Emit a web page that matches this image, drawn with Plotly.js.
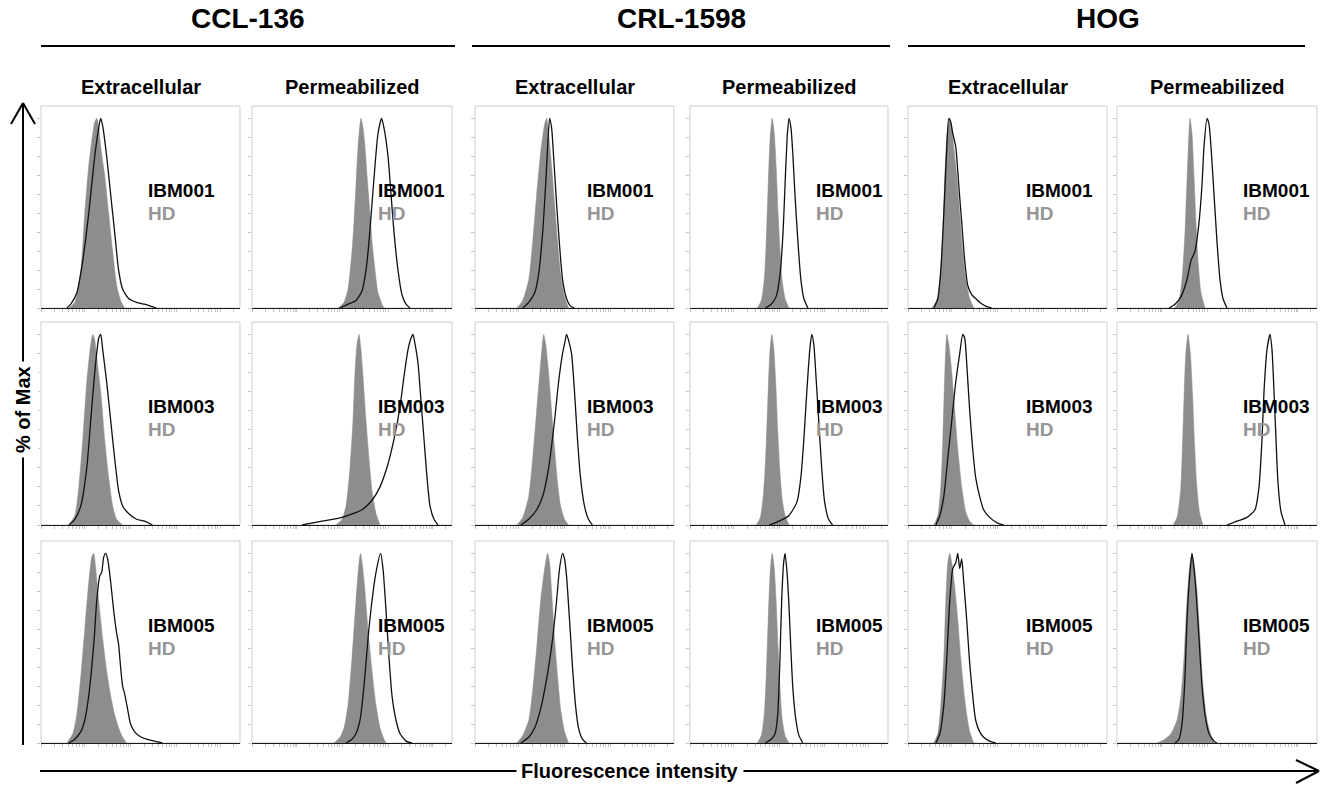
<!DOCTYPE html>
<html><head><meta charset="utf-8">
<script src="https://cdn.plot.ly/plotly-3.0.1.min.js"></script>
<style>html,body{margin:0;padding:0;background:#fff}#chart{width:1321px;height:787px}</style>
</head><body><div id="chart"></div>
<script>
const cellLines = ["CCL-136", "CRL-1598", "HOG"];
const conditions = ["Extracellular", "Permeabilized"];
const patients = ["IBM001", "IBM003", "IBM005"];
const controlLabel = "HD";
const xAxisTitle = "Fluorescence intensity";
const yAxisTitle = "% of Max";

// Histograms: [x (% of axis width, log fluorescence), y (% of max)]
// Row IBM001
const hd_ccl136_ext_1 = [[14,0],[17,3],[20,20],[22,50],[24,75],[26,92],[27,98],[28,100],[29,96],[30,85],[32,70],[34,50],[36,30],[38,12],[40,4],[42,0]];
const pt_ccl136_ext_1 = [[13,0],[15,2],[18,8],[21,25],[24,50],[27,80],[29,95],[30,100],[31,96],[33,80],[35,60],[37,40],[39,20],[41,10],[44,5],[48,3],[52,2],[55,1],[58,0]];
const hd_ccl136_perm_1 = [[43,0],[46,3],[48,10],[50,30],[51,45],[52,65],[53,85],[54,97],[54.5,100],[55.5,95],[56.5,85],[57.5,70],[59,50],[60,35],[61.5,20],[63,8],[65,2],[66,0]];
const pt_ccl136_perm_1 = [[44,0],[48,2],[52,4],[55,9],[57,20],[58.5,35],[60,55],[61.5,75],[63,92],[64.8,100],[66,95],[68,80],[69.5,60],[71,40],[73,20],[75,7],[77,2],[79,0]];
const hd_crl1598_ext_1 = [[21,0],[24,4],[27,15],[29,35],[31,60],[33,82],[35,97],[36,100],[37,92],[38.5,75],[40,55],[41.5,35],[43,18],[45,6],[47,0]];
const pt_crl1598_ext_1 = [[24,0],[27,3],[30,8],[32,18],[34,40],[35.5,65],[36.5,85],[37.5,100],[38.5,95],[39.5,80],[41,55],[42.5,33],[44,15],[46,5],[48,1],[50,0]];
const hd_crl1598_perm_1 = [[34,0],[36,4],[37.5,15],[38.5,35],[39.5,65],[40.5,90],[41.5,100],[42.5,93],[43.5,75],[44.5,50],[45.5,30],[46.5,15],[48,5],[50,0]];
const pt_crl1598_perm_1 = [[38,0],[41,2],[43.5,6],[45.5,18],[47,40],[48.2,70],[49.2,92],[50,100],[51,95],[52,80],[53,60],[54.5,35],[56,15],[57.5,5],[59.5,0]];
const hd_hog_ext_1 = [[12,0],[14.5,4],[16,15],[17.5,40],[18.5,70],[19.5,90],[21,100],[22,95],[23,85],[24.5,70],[26,50],[27.5,30],[29,15],[31,5],[33,0]];
const pt_hog_ext_1 = [[13,0],[15,5],[16.5,20],[18,50],[19.5,85],[20.5,100],[21.5,98],[22.5,92],[24,85],[25.5,65],[27,45],[28.5,25],[30,12],[32,7],[34,5],[36,3],[39,1],[42,0]];
const hd_hog_perm_1 = [[29,0],[31,4],[32.5,15],[34,40],[35.3,75],[36.5,100],[37.5,92],[38.5,70],[39.5,45],[40.5,25],[42,8],[44,0]];
const pt_hog_perm_1 = [[26,0],[29,2],[32,6],[35,15],[37,25],[39,30],[41,45],[42.5,65],[43.5,85],[45,100],[46,97],[47,85],[48.5,60],[50,35],[51.5,15],[53,5],[55,0]];
// Row IBM003
const hd_ccl136_ext_3 = [[14,0],[17,5],[19,20],[21,45],[23,75],[25,95],[26,100],[27,97],[28,88],[30,70],[32,45],[34,25],[36,10],[38,3],[41,0]];
const pt_ccl136_ext_3 = [[14,0],[17,3],[20,10],[23,30],[25,55],[27,80],[29,98],[30,100],[31,92],[33,75],[35,55],[37,35],[39,18],[41,10],[44,6],[48,3],[52,2],[56,0]];
const hd_ccl136_perm_3 = [[42,0],[45,3],[47,10],[49,30],[50.5,55],[51.5,80],[52.5,95],[53.5,100],[54.5,92],[55.5,78],[57,55],[58.5,35],[60,18],[62,6],[64,0]];
const pt_ccl136_perm_3 = [[25,0],[35,2],[45,4],[55,8],[60,13],[64,20],[68,32],[71,45],[74,62],[76,78],[78,92],[79.5,98],[80.5,100],[81.5,95],[83,85],[84.5,65],[86,45],[87.5,25],[89,10],[91,3],[93,0]];
const hd_crl1598_ext_3 = [[21,0],[24,4],[27,15],[29,35],[31,60],[33,85],[34.5,100],[35.5,95],[37,80],[38.5,60],[40,40],[41.5,22],[43,10],[45,3],[47,0]];
const pt_crl1598_ext_3 = [[23,0],[27,3],[31,8],[34,15],[37,30],[40,55],[42,75],[44,90],[45,95],[46,100],[47,97],[48.5,90],[50,70],[51.5,45],[53,25],[55,10],[57,3],[59,0]];
const hd_crl1598_perm_3 = [[33.5,0],[35.5,4],[37,15],[38.2,35],[39.3,65],[40.3,90],[41.3,100],[42.3,93],[43.3,75],[44.3,50],[45.3,30],[46.5,14],[48,5],[50,0]];
const pt_crl1598_perm_3 = [[40,0],[45,2],[50,5],[54,12],[56,25],[57.5,45],[59,70],[60.5,92],[61.5,100],[62.5,95],[63.5,80],[65,55],[66.5,30],[68,12],[70,3],[72,0]];
const hd_hog_ext_3 = [[13,0],[15,5],[16.5,20],[17.5,45],[18.5,80],[19.5,100],[20.5,95],[22,80],[23.5,60],[25,40],[27,20],[29,7],[31,2],[33,0]];
const pt_hog_ext_3 = [[14,0],[16,5],[18,15],[20,35],[22,55],[24,75],[26,90],[27.5,100],[28.5,98],[29.5,85],[31,60],[32.5,40],[34,25],[36,15],[38,8],[41,4],[45,1],[48,0]];
const hd_hog_perm_3 = [[28,0],[30,4],[31.8,18],[33,50],[34.3,88],[35.5,100],[36.7,90],[37.8,68],[38.8,42],[39.8,22],[41.2,7],[43,0]];
const pt_hog_perm_3 = [[55,0],[60,2],[65,4],[69,8],[71,20],[72.5,45],[73.5,70],[75,92],[76.5,100],[77.5,92],[78.5,70],[79.5,45],[80.5,22],[82,7],[84,0]];
// Row IBM005
const hd_ccl136_ext_5 = [[13,0],[16,5],[18,15],[20,35],[22,60],[24,85],[25.5,98],[26.5,100],[27.5,92],[29,75],[31,55],[33,38],[35,25],[37,15],[39,8],[41,3],[43,0]];
const pt_ccl136_ext_5 = [[14,0],[17,2],[20,6],[22,12],[24,25],[25.5,40],[26.8,56],[28,75],[29.5,88],[30.5,90],[31.5,98],[32.5,100],[33.5,97],[35,85],[36.5,70],[38,58],[39,52],[40,40],[41,30],[42,26],[43.5,18],[45,10],[47,6],[49,4],[53,2],[57,1],[61,0]];
const hd_ccl136_perm_5 = [[41,0],[44,3],[46,8],[48,20],[50,45],[52,75],[53.5,95],[54.3,100],[55.3,93],[56.5,80],[58,60],[60,38],[62,20],[64,8],[66,2],[67,0]];
const pt_ccl136_perm_5 = [[47,0],[50,2],[52,5],[54,12],[56,30],[58,55],[60,75],[62,90],[64.3,100],[65.5,92],[67,70],[68.5,45],[70,25],[72,12],[74,5],[77,1],[80,0]];
const hd_crl1598_ext_5 = [[21,0],[24,4],[27,12],[29,28],[31,50],[33,75],[35,92],[36.5,100],[37.5,95],[38.5,80],[40,55],[41.5,35],[43,18],[45,6],[47,0]];
const pt_crl1598_ext_5 = [[23,0],[27,3],[30,8],[33,18],[35,28],[37,40],[39,55],[41,75],[42.5,92],[44,100],[45,97],[46,88],[47.5,65],[49,40],[50.5,20],[52,8],[54,2],[56,0]];
const hd_crl1598_perm_5 = [[34,0],[36,4],[37.5,15],[38.5,35],[39.5,65],[40.5,90],[41.5,100],[42.5,93],[43.5,75],[44.5,50],[45.5,28],[46.5,13],[48,4],[50,0]];
const pt_crl1598_perm_5 = [[38,0],[41,2],[43,5],[44.3,15],[45.3,40],[46.3,75],[47.3,95],[48,100],[49,90],[50,72],[51,48],[52,28],[53.5,12],[55,4],[57,0]];
const hd_hog_ext_5 = [[13,0],[15,5],[16.5,20],[18,45],[19,75],[20,95],[21,100],[22,95],[23.5,82],[25,65],[26.5,45],[28,28],[29.5,15],[31,6],[33,0]];
const pt_hog_ext_5 = [[14,0],[16,5],[18,20],[19.5,45],[21,75],[22.5,92],[24,95],[25,100],[26,92],[27,97],[28,85],[29.5,65],[31,42],[32.5,25],[34,12],[36,6],[38,3],[41,1],[44,0]];
const hd_hog_perm_5 = [[20,0],[24,2],[27,5],[30,12],[32,25],[33.5,45],[35,75],[36.5,95],[37.5,100],[38.5,95],[40,80],[41.5,55],[43,30],[45,12],[47,4],[49,0]];
const pt_hog_perm_5 = [[29,0],[31,2],[32.5,10],[34,35],[35,65],[36.5,90],[37.5,100],[38.5,92],[39.5,80],[41,55],[42.5,30],[44,15],[46,5],[48.5,1],[50,0]];

const histogramGrid = [
  [[hd_ccl136_ext_1, pt_ccl136_ext_1], [hd_ccl136_perm_1, pt_ccl136_perm_1], [hd_crl1598_ext_1, pt_crl1598_ext_1], [hd_crl1598_perm_1, pt_crl1598_perm_1], [hd_hog_ext_1, pt_hog_ext_1], [hd_hog_perm_1, pt_hog_perm_1]],
  [[hd_ccl136_ext_3, pt_ccl136_ext_3], [hd_ccl136_perm_3, pt_ccl136_perm_3], [hd_crl1598_ext_3, pt_crl1598_ext_3], [hd_crl1598_perm_3, pt_crl1598_perm_3], [hd_hog_ext_3, pt_hog_ext_3], [hd_hog_perm_3, pt_hog_perm_3]],
  [[hd_ccl136_ext_5, pt_ccl136_ext_5], [hd_ccl136_perm_5, pt_ccl136_perm_5], [hd_crl1598_ext_5, pt_crl1598_ext_5], [hd_crl1598_perm_5, pt_crl1598_perm_5], [hd_hog_ext_5, pt_hog_ext_5], [hd_hog_perm_5, pt_hog_perm_5]]
];

// ---------- layout geometry (pixels) ----------
const W = 1321, H = 787;
const colPx = [[41,240],[252,452],[475,674],[690,888],[908,1107],[1117,1317]];
const rowPx = [[106,308],[322,525],[541,743]];
const labelFx = [0.53, 0.62, 0.555, 0.625, 0.585, 0.62];
const px = v => v / W;
const py = v => 1 - v / H;
const FONT = "Liberation Sans, Arial, Helvetica, sans-serif";

// log-like minor tick positions on the fluorescence axis
const xTicks = [];
[0, 22, 45, 68, 90].forEach(d => { for (let k = 1; k <= 9; k++) { const t = d + 23 * Math.log10(k); if (t <= 100) xTicks.push(t); } });

const traces = [];
const layout = {
  width: W, height: H, margin: {l:0, r:0, t:0, b:0},
  paper_bgcolor: "#fff", plot_bgcolor: "#fff", showlegend: false,
  font: {family: FONT, color: "#000"},
  shapes: [], annotations: []
};

let n = 0;
for (let r = 0; r < 3; r++) {
  for (let c = 0; c < 6; c++) {
    n++;
    const xa = "x" + (n === 1 ? "" : n), ya = "y" + (n === 1 ? "" : n);
    const xk = "xaxis" + (n === 1 ? "" : n), yk = "yaxis" + (n === 1 ? "" : n);
    layout[xk] = {
      domain: [px(colPx[c][0]), px(colPx[c][1])], range: [0, 100], anchor: ya,
      showline: true, linecolor: "#1a1a1a", linewidth: 1.3, mirror: false,
      ticks: "outside", tickvals: xTicks, ticklen: 3, tickcolor: "#c4c4c4", tickwidth: 1,
      showticklabels: false, showgrid: false, zeroline: false, fixedrange: true
    };
    layout[yk] = {
      domain: [py(rowPx[r][1]), py(rowPx[r][0])], range: [0, 106.5], anchor: xa,
      showline: false, ticks: "outside", dtick: 10, tick0: 0, ticklen: 3, tickcolor: "#c4c4c4",
      showticklabels: false, showgrid: false, zeroline: false, fixedrange: true
    };
    layout.shapes.push({type: "rect", xref: xa + " domain", yref: ya + " domain", x0: 0, x1: 1, y0: 0, y1: 1,
      line: {color: "#cdcdcd", width: 1}, layer: "below"});
    const [hd, pt] = histogramGrid[r][c];
    traces.push({x: hd.map(p => p[0]), y: hd.map(p => p[1]), xaxis: xa, yaxis: ya, type: "scatter", mode: "lines",
      fill: "tozeroy", fillcolor: "#8d8d8d", line: {color: "#8d8d8d", width: 0.5, shape: "spline", smoothing: 0.6}, hoverinfo: "skip"});
    traces.push({x: pt.map(p => p[0]), y: pt.map(p => p[1]), xaxis: xa, yaxis: ya, type: "scatter", mode: "lines",
      line: {color: "#111", width: 1.3, shape: "spline", smoothing: 0.6}, hoverinfo: "skip"});
    layout.annotations.push({xref: xa + " domain", yref: ya + " domain", x: labelFx[c], y: 0.584, xanchor: "left", yanchor: "middle",
      text: "<b>" + patients[r] + "</b>", showarrow: false, font: {size: 19, color: "#000", family: FONT}});
    layout.annotations.push({xref: xa + " domain", yref: ya + " domain", x: labelFx[c], y: 0.47, xanchor: "left", yanchor: "middle",
      text: "<b>" + controlLabel + "</b>", showarrow: false, font: {size: 19, color: "#959595", family: FONT}});
  }
}

// Column headers
const headerCx = [248, 681, 1108];
const headerLines = [[41,455],[472,890],[908,1305]];
cellLines.forEach((name, i) => {
  layout.annotations.push({xref: "paper", yref: "paper", x: px(headerCx[i]), y: py(18), xanchor: "center", yanchor: "middle",
    text: "<b>" + name + "</b>", showarrow: false, font: {size: 28, family: FONT, color: "#000"}});
  layout.shapes.push({type: "line", xref: "paper", yref: "paper", x0: px(headerLines[i][0]), x1: px(headerLines[i][1]), y0: py(46), y1: py(46),
    line: {color: "#000", width: 2}});
});
colPx.forEach((cp, c) => {
  layout.annotations.push({xref: "paper", yref: "paper", x: px((cp[0] + cp[1]) / 2), y: py(87), xanchor: "center", yanchor: "middle",
    text: "<b>" + conditions[c % 2] + "</b>", showarrow: false, font: {size: 20, family: FONT, color: "#000"}});
});

// Axis arrows
const arrowLine = {color: "#000", width: 2};
layout.shapes.push({type: "line", xref: "paper", yref: "paper", x0: px(23), x1: px(23), y0: py(745), y1: py(103), line: arrowLine});
layout.shapes.push({type: "line", xref: "paper", yref: "paper", x0: px(11), x1: px(23), y0: py(124), y1: py(103), line: arrowLine});
layout.shapes.push({type: "line", xref: "paper", yref: "paper", x0: px(35), x1: px(23), y0: py(124), y1: py(103), line: arrowLine});
layout.shapes.push({type: "line", xref: "paper", yref: "paper", x0: px(40), x1: px(1319), y0: py(771), y1: py(771), line: arrowLine});
layout.shapes.push({type: "line", xref: "paper", yref: "paper", x0: px(1296), x1: px(1319), y0: py(760), y1: py(771), line: arrowLine});
layout.shapes.push({type: "line", xref: "paper", yref: "paper", x0: px(1296), x1: px(1319), y0: py(783), y1: py(771), line: arrowLine});

layout.annotations.push({xref: "paper", yref: "paper", x: px(630), y: py(771), xanchor: "center", yanchor: "middle",
  text: "<b>" + xAxisTitle + "</b>", showarrow: false, bgcolor: "#fff", borderpad: 4, font: {size: 20, family: FONT, color: "#000"}});
layout.annotations.push({xref: "paper", yref: "paper", x: px(23), y: py(410), xanchor: "center", yanchor: "middle", textangle: -90,
  text: "<b>" + yAxisTitle + "</b>", showarrow: false, bgcolor: "#fff", borderpad: 4, font: {size: 20, family: FONT, color: "#000"}});

Plotly.newPlot("chart", traces, layout, {staticPlot: true, displayModeBar: false});
</script>
</body></html>
